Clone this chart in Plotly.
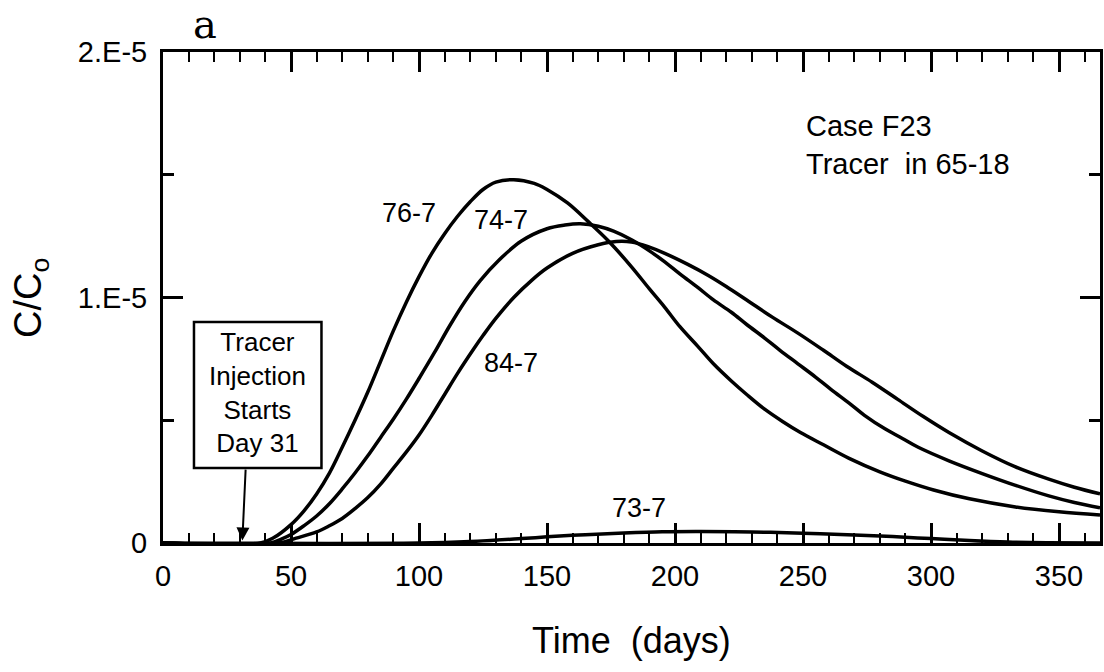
import plotly.graph_objects as go

# Breakthrough curves, C/Co in units of 1e-5, versus time in days
SCALE = 1e-5

days_76 = [0, 38, 43, 50, 55, 60, 65, 70, 75, 80, 85, 90, 95, 100, 105, 110, 115, 120, 125,
           130, 137, 145, 150, 158, 166, 174, 183, 190, 196, 202, 209, 215, 222, 228, 235,
           242, 249, 258, 268, 280, 290, 301, 315, 333, 350, 366]
conc_76 = [0, 0, 0.02, 0.075, 0.13, 0.2, 0.285, 0.39, 0.5, 0.615, 0.74, 0.865, 0.98, 1.085,
           1.18, 1.26, 1.33, 1.39, 1.44, 1.47, 1.48, 1.465, 1.44, 1.385, 1.31, 1.23, 1.125,
           1.035, 0.96, 0.88, 0.80, 0.73, 0.66, 0.605, 0.545, 0.495, 0.45, 0.40, 0.345,
           0.29, 0.252, 0.216, 0.18, 0.147, 0.127, 0.114]

days_74 = [0, 42, 46, 50, 55, 60, 65, 70, 75, 80, 85, 90, 95, 100, 106, 112, 118, 124, 131,
           140, 150, 157, 163, 170, 176, 183, 190, 196, 202, 209, 215, 222, 228, 235, 241,
           248, 255, 261, 268, 274, 282, 289, 295, 307, 320, 333, 346, 356, 366]
conc_74 = [0, 0, 0.015, 0.035, 0.07, 0.11, 0.16, 0.22, 0.285, 0.355, 0.43, 0.505, 0.585,
           0.67, 0.775, 0.885, 0.985, 1.07, 1.15, 1.23, 1.28, 1.295, 1.30, 1.29, 1.27,
           1.235, 1.19, 1.145, 1.095, 1.04, 0.99, 0.94, 0.89, 0.835, 0.785, 0.73, 0.675,
           0.625, 0.57, 0.52, 0.465, 0.425, 0.39, 0.335, 0.283, 0.235, 0.192, 0.165, 0.143]

days_84 = [0, 45, 52, 60, 65, 70, 75, 80, 85, 90, 95, 100, 105, 110, 115, 121, 125, 130,
           137, 144, 150, 160, 170, 177, 183, 190, 196, 205, 213, 220, 228, 238, 248, 258,
           267, 277, 287, 297, 307, 320, 333, 346, 356, 366]
conc_84 = [0, 0, 0.02, 0.045, 0.07, 0.10, 0.14, 0.185, 0.24, 0.305, 0.37, 0.44, 0.52, 0.605,
           0.69, 0.785, 0.845, 0.915, 1.0, 1.07, 1.12, 1.18, 1.215, 1.228, 1.226, 1.205,
           1.18, 1.135, 1.09, 1.045, 0.99, 0.92, 0.855, 0.785, 0.72, 0.655, 0.585, 0.515,
           0.45, 0.375, 0.31, 0.26, 0.227, 0.20]

days_73 = [0, 100, 120, 140, 150, 165, 180, 195, 210, 230, 250, 270, 285, 300, 315, 330,
           345, 366]
conc_73 = [0, 0, 0.006, 0.018, 0.025, 0.034, 0.041, 0.046, 0.047, 0.045, 0.04, 0.033,
           0.026, 0.018, 0.01, 0.004, 0.001, 0]

series = [
    ("76-7", days_76, conc_76),
    ("74-7", days_74, conc_74),
    ("84-7", days_84, conc_84),
    ("73-7", days_73, conc_73),
]

# Curve label positions (day, C/Co in 1e-5)
label_pos = {"76-7": (96, 1.344), "74-7": (132, 1.316), "84-7": (136, 0.733), "73-7": (186, 0.143)}

y_tickvals = [0, 1, 2]
y_ticktext = ["0", "1.E-5", "2.E-5"]
x_tickvals = [0, 50, 100, 150, 200, 250, 300, 350]

injection_day = 31

FONT = "Liberation Sans"

fig = go.Figure()
for name, d, c in series:
    fig.add_trace(go.Scatter(
        x=d, y=[v * SCALE for v in c], mode="lines", name=name,
        line=dict(color="black", width=3.5, shape="spline", smoothing=1.0),
        showlegend=False,
    ))

annotations = []
for name, (lx, ly) in label_pos.items():
    annotations.append(dict(x=lx, y=ly * SCALE, xref="x", yref="y", text=name,
                            showarrow=False, font=dict(family=FONT, size=27, color="black")))

# Injection start box and arrow
annotations.append(dict(x=37, y=0.615 * SCALE, xref="x", yref="y",
                        text="Tracer<br>Injection<br>Starts<br>Day 31", showarrow=False,
                        align="center", font=dict(family=FONT, size=26, color="black")))
annotations.append(dict(x=injection_day, y=0.01 * SCALE, xref="x", yref="y",
                        ax=32.3, ay=0.305 * SCALE, axref="x", ayref="y", text="",
                        showarrow=True, arrowhead=2, arrowsize=1.3, arrowwidth=2,
                        arrowcolor="black"))

annotations.append(dict(x=0.684, y=0.8106, xref="paper", yref="paper",
                        text="Case F23<br>Tracer  in 65-18", showarrow=False, align="left",
                        xanchor="left", yanchor="middle",
                        font=dict(family=FONT, size=29, color="black")))

annotations.append(dict(x=0.0447, y=1.058, xref="paper", yref="paper", text="a",
                        showarrow=False, xanchor="center", yanchor="middle",
                        font=dict(family="DejaVu Serif", size=40, color="black")))

annotations.append(dict(x=0.5, y=-0.198, xref="paper", yref="paper", text="Time  (days)",
                        showarrow=False, yanchor="middle",
                        font=dict(family=FONT, size=36, color="black")))
annotations.append(dict(x=-0.1415, y=0.5, xref="paper", yref="paper",
                        text="C/C<sub>o</sub>", textangle=-90, showarrow=False,
                        xanchor="center", yanchor="middle",
                        font=dict(family=FONT, size=38, color="black")))

fig.add_shape(type="rect", xref="x", yref="y", x0=12.1, x1=61.9,
              y0=0.305 * SCALE, y1=0.9 * SCALE, line=dict(color="black", width=2.5),
              fillcolor="white", layer="below")

fig.update_layout(
    width=1104, height=672,
    margin=dict(l=163, r=1, t=52, b=129),
    paper_bgcolor="white", plot_bgcolor="white",
    annotations=annotations,
    xaxis=dict(
        range=[0, 366], tickmode="array", tickvals=x_tickvals,
        ticks="inside", ticklen=20, tickwidth=2.5, tickcolor="black",
        minor=dict(tickmode="linear", tick0=0, dtick=10, ticks="inside", ticklen=10,
                   tickwidth=2, tickcolor="black"),
        showline=True, linecolor="black", linewidth=3, mirror="ticks",
        showgrid=False, zeroline=False, ticklabelstandoff=5,
        tickfont=dict(family=FONT, size=29, color="black"),
    ),
    yaxis=dict(
        range=[0, 2 * SCALE], tickmode="array", tickvals=[v * SCALE for v in y_tickvals],
        ticktext=y_ticktext,
        ticks="inside", ticklen=20, tickwidth=2.5, tickcolor="black",
        minor=dict(tickmode="linear", tick0=0, dtick=0.5 * SCALE, ticks="inside",
                   ticklen=11, tickwidth=2.5, tickcolor="black"),
        showline=True, linecolor="black", linewidth=3, mirror="ticks",
        showgrid=False, zeroline=False, ticklabelstandoff=7,
        tickfont=dict(family=FONT, size=29, color="black"),
    ),
)

fig.write_html("out.html")
